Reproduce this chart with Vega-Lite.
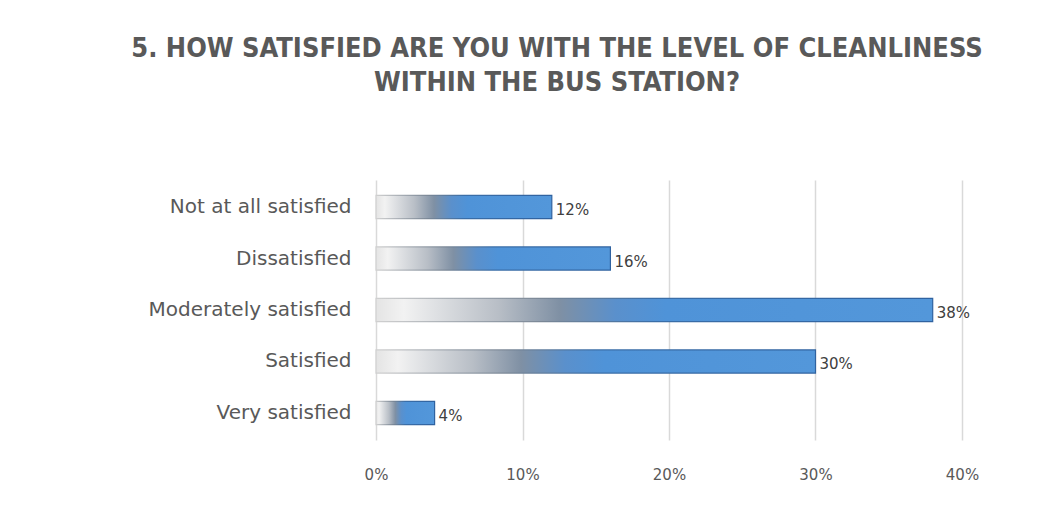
{
  "$schema": "https://vega.github.io/schema/vega-lite/v6.json",
  "autosize": "none",
  "width": 586,
  "height": 260,
  "padding": {"left": 376, "top": 180, "right": 85, "bottom": 69},
  "background": "white",
  "config": {"view": {"stroke": null}},
  "title": {
    "text": ["5. HOW SATISFIED ARE YOU WITH THE LEVEL OF CLEANLINESS", "WITHIN THE BUS STATION?"],
    "anchor": "middle",
    "dx": -112,
    "offset": 83,
    "font": "Liberation Sans Narrow, DejaVu Sans Condensed, sans-serif",
    "fontSize": 27,
    "fontWeight": "bold",
    "color": "#595959",
    "lineHeight": 34
  },
  "data": {
    "values": [
      {"category": "Not at all satisfied", "value": 0.12, "label": "12%"},
      {"category": "Dissatisfied", "value": 0.16, "label": "16%"},
      {"category": "Moderately satisfied", "value": 0.38, "label": "38%"},
      {"category": "Satisfied", "value": 0.30, "label": "30%"},
      {"category": "Very satisfied", "value": 0.04, "label": "4%"}
    ]
  },
  "encoding": {
    "y": {
      "field": "category",
      "type": "nominal",
      "sort": null,
      "title": null,
      "scale": {"paddingInner": 0.55, "paddingOuter": 0.3},
      "axis": {
        "domain": false,
        "ticks": false,
        "labelFont": "DejaVu Sans",
        "labelFontSize": 20,
        "labelColor": "#595959",
        "labelPadding": 25,
        "labelLimit": 300
      }
    },
    "x": {
      "field": "value",
      "type": "quantitative",
      "title": null,
      "scale": {"domain": [0, 0.4]},
      "axis": {
        "format": ".0%",
        "values": [0, 0.1, 0.2, 0.3, 0.4],
        "domain": false,
        "ticks": false,
        "grid": true,
        "gridColor": "#d9d9d9",
        "gridWidth": 1.5,
        "labelFlush": false,
        "labelBound": false,
        "labelFont": "DejaVu Sans",
        "labelFontSize": 15,
        "labelColor": "#595959",
        "labelPadding": 27
      }
    }
  },
  "layer": [
    {
      "mark": {
        "type": "bar",
        "fill": {
          "gradient": "linear",
          "x1": 0, "y1": 0, "x2": 1, "y2": 0,
          "stops": [
            {"offset": 0, "color": "#e4e4e4"},
            {"offset": 0.05, "color": "#f2f2f2"},
            {"offset": 0.22, "color": "#b8bec6"},
            {"offset": 0.33, "color": "#7f90a4"},
            {"offset": 0.43, "color": "#5a90cc"},
            {"offset": 0.52, "color": "#4f93d8"},
            {"offset": 1, "color": "#5397da"}
          ]
        },
        "stroke": {
          "gradient": "linear",
          "x1": 0, "y1": 0, "x2": 1, "y2": 0,
          "stops": [
            {"offset": 0, "color": "#d0d0d0"},
            {"offset": 0.3, "color": "#7a8796"},
            {"offset": 0.5, "color": "#3a6ea8"},
            {"offset": 1, "color": "#2f62a0"}
          ]
        },
        "strokeWidth": 1.2
      }
    },
    {
      "mark": {
        "type": "text",
        "align": "left",
        "baseline": "middle",
        "dx": 4,
        "dy": 3,
        "font": "DejaVu Sans",
        "fontSize": 15,
        "color": "#404040"
      },
      "encoding": {"text": {"field": "label"}}
    }
  ]
}
